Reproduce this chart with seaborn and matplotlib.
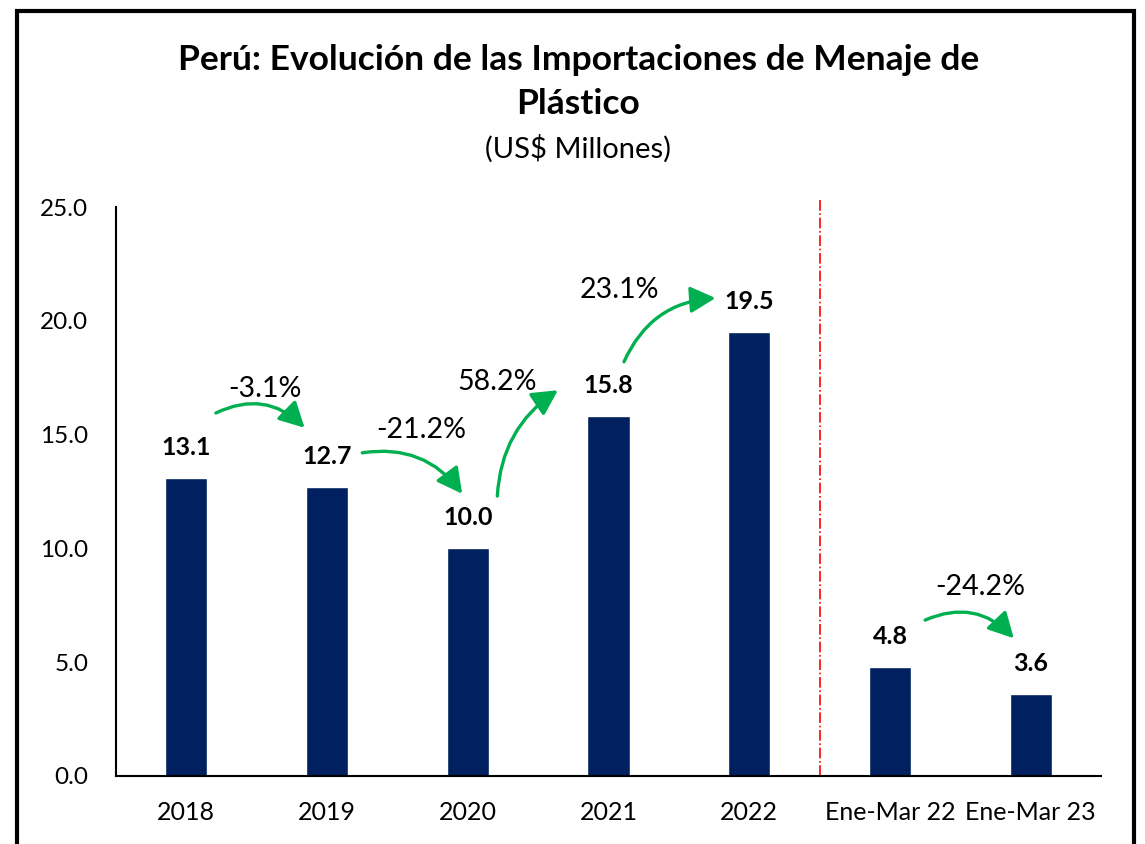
import matplotlib
matplotlib.use("Agg")
import matplotlib.pyplot as plt
import seaborn as sns
import pandas as pd
from matplotlib.patches import FancyArrowPatch, Rectangle

# datos
categorias = ["2018", "2019", "2020", "2021", "2022", "Ene-Mar 22", "Ene-Mar 23"]
valores = [13.1, 12.7, 10.0, 15.8, 19.5, 4.8, 3.6]
variaciones = ["-3.1%", "-21.2%", "58.2%", "23.1%", "-24.2%"]
# pares de barras que une cada flecha
pares = [(0, 1), (1, 2), (2, 3), (3, 4), (5, 6)]

df = pd.DataFrame({"periodo": categorias, "valor": valores})

sns.set_theme(style="white")
plt.rcParams["font.family"] = ["Lato", "DejaVu Sans"]
plt.rcParams["text.color"] = "black"
plt.rcParams["xtick.color"] = "black"
plt.rcParams["ytick.color"] = "black"

fig = plt.figure(figsize=(11.45, 8.44), dpi=100)
ax = fig.add_axes([0.1013, 0.0806, 0.8603, 0.6741])

sns.barplot(data=df, x="periodo", y="valor", color="#002060", saturation=1,
            width=0.3, ax=ax)

ax.set_ylim(0, 25)
ax.set_xlim(-0.5, 6.5)
ax.set_yticks([0, 5, 10, 15, 20, 25])
ax.set_yticklabels([f"{v:.1f}" for v in [0, 5, 10, 15, 20, 25]], fontsize=17.5)
ax.tick_params(axis="x", labelsize=18, length=0, pad=18, labelcolor="black")
ax.tick_params(axis="y", length=0, pad=20, labelcolor="black")
ax.set_xlabel("")
ax.set_ylabel("")
for s in ["top", "right"]:
    ax.spines[s].set_visible(False)
for s in ["left", "bottom"]:
    ax.spines[s].set_color("black")
    ax.spines[s].set_linewidth(1.5)

# etiquetas de valor
for i, v in enumerate(valores):
    ax.annotate(f"{v:.1f}", (i, v), xytext=(0, 22), textcoords="offset points",
                ha="center", va="center", fontsize=18, fontweight="bold", color="black")

# linea separadora
ax.plot([4.5, 4.5], [0, 25.3], color="red", linestyle="-.", linewidth=1.2, clip_on=False)

# flechas de variacion
arrow_pos = [((0.21, 15.95), (0.84, 15.3), -0.35),
             ((1.25, 14.2), (1.96, 12.4), -0.3),
             ((2.21, 12.3), (2.64, 16.95), -0.25),
             ((3.11, 18.2), (3.76, 21.0), -0.3),
             ((5.25, 6.85), (5.88, 6.05), -0.35)]
label_pos = [(0.56, 17.0), (1.67, 15.2), (2.21, 17.3), (3.08, 21.35), (5.64, 8.3)]
for (a, b, rad), txt, (lx, ly) in zip(arrow_pos, variaciones, label_pos):
    arr = FancyArrowPatch(a, b, connectionstyle=f"arc3,rad={rad}",
                          arrowstyle="-|>,head_length=0.85,head_width=0.45",
                          mutation_scale=18, color="#00B050", linewidth=2.4,
                          shrinkA=0, shrinkB=0)
    ax.add_patch(arr)
    ax.text(lx, ly, txt, ha="center", va="center", fontsize=20.5, color="black")

# titulo
fig.text(0.505, 0.929, "Perú: Evolución de las Importaciones de Menaje de", ha="center",
         va="center", fontsize=25.5, fontweight="bold", color="black")
fig.text(0.505, 0.877, "Plástico", ha="center", va="center", fontsize=25.5,
         fontweight="bold", color="black")
fig.text(0.505, 0.824, "(US$ Millones)", ha="center", va="center", fontsize=21, color="black")

# marco
fig.patches.append(Rectangle((17 / 1145, -0.05), 1117 / 1145, 1.05 - 11 / 844,
                             transform=fig.transFigure, fill=False,
                             edgecolor="black", linewidth=3))

fig.savefig("out.png", dpi=100)
